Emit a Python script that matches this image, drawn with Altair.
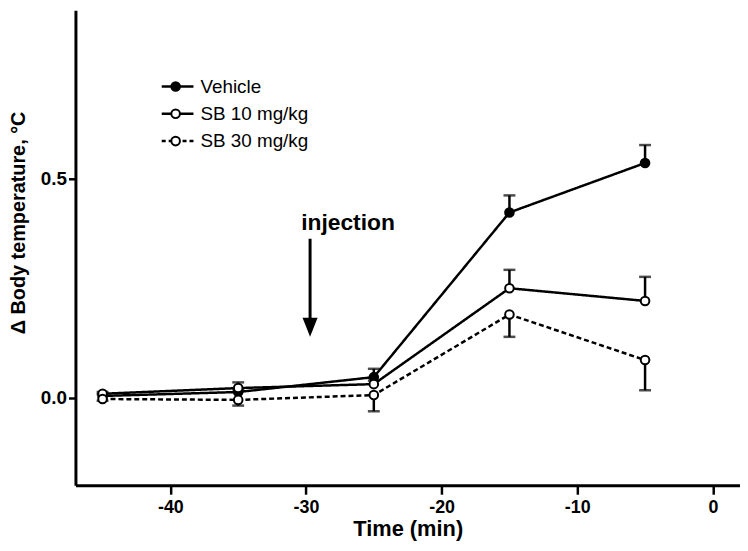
import altair as alt
import pandas as pd

# ---- data ----
time = [-45, -35, -25, -15, -5]
series = ["Vehicle", "SB 10 mg/kg", "SB 30 mg/kg"]
vehicle_mean = [0.004, 0.013, 0.047, 0.423, 0.536]
vehicle_sem = [0.004, 0.006, 0.019, 0.039, 0.041]
sb10_mean = [0.009, 0.022, 0.031, 0.250, 0.221]
sb10_sem = [0.004, 0.013, 0.008, 0.042, 0.055]
sb30_mean = [-0.003, -0.005, 0.006, 0.190, 0.086]
sb30_sem = [0.004, 0.013, 0.037, 0.051, 0.069]
x_ticks = [-40, -30, -20, -10, 0]
y_ticks = [0.0, 0.5]
injection_time = [-29.7]
injection_label = ["injection"]

# ---- table ----
err_dir = {"Vehicle": 1, "SB 10 mg/kg": 1, "SB 30 mg/kg": -1}
rows = []
for name, means, sems in zip(series, [vehicle_mean, sb10_mean, sb30_mean],
                             [vehicle_sem, sb10_sem, sb30_sem]):
    for t, m, s in zip(time, means, sems):
        rows.append({"time": t, "mean": m, "series": name,
                     "end": m + err_dir[name] * s})
df = pd.DataFrame(rows)

W, H = 670, 479
xs = alt.Scale(domain=[-47, 2], nice=False, zero=False)
ys = alt.Scale(domain=[-0.2, 0.885], nice=False, zero=False)

X = alt.X("time:Q", scale=xs, axis=alt.Axis(
    values=x_ticks, title="Time (min)", labelExpr="'' + datum.value"))
Y = alt.Y("mean:Q", scale=ys, axis=alt.Axis(
    values=y_ticks, format=".1f", title="Δ Body temperature, °C"))

dash = alt.StrokeDash("series:N", scale=alt.Scale(domain=series, range=[[1, 0], [1, 0], [5, 3]]), legend=None)
fill = alt.Fill("series:N", scale=alt.Scale(domain=series, range=["black", "white", "white"]), legend=None)

base = alt.Chart(df)
lines = base.mark_line(color="black", strokeWidth=2.5).encode(x=X, y=Y, detail="series:N", strokeDash=dash)
err = base.mark_rule(color="black", strokeWidth=2.5).encode(x="time:Q", y="mean:Q", y2="end:Q")
caps = base.mark_tick(color="black", orient="horizontal", size=12, thickness=2.5).encode(x="time:Q", y="end:Q")
pts = base.mark_point(shape="circle", filled=True, size=75, stroke="black", strokeWidth=2, opacity=1).encode(
    x="time:Q", y="mean:Q", fill=fill)

# injection arrow
inj = pd.DataFrame({"time": injection_time, "label": injection_label})
shaft = alt.Chart(inj).mark_rule(color="black", strokeWidth=3).encode(
    x="time:Q", y=alt.datum(0.363), y2=alt.datum(0.18))
head = alt.Chart(inj).mark_point(shape="M-0.8,-1L0.8,-1L0,1Z", filled=True, color="black", size=361, opacity=1).encode(
    x="time:Q", y=alt.datum(0.161))
inj_text = alt.Chart(inj).mark_text(align="left", baseline="alphabetic", font="Liberation Sans",
                                    fontWeight="bold", fontSize=23, dx=-9).encode(
    x="time:Q", y=alt.datum(0.384), text="label:N")

# manual legend (pixel positions inside the plot area)
leg_layers = []
leg_y = [77, 104.5, 132]
leg_dash = [[1, 0], [1, 0], [4, 3]]
leg_fill = ["black", "white", "white"]
for name, ly, dsh, fl in zip(series, leg_y, leg_dash, leg_fill):
    ldf = pd.DataFrame({"label": [name]})
    c = alt.Chart(ldf)
    leg_layers.append(c.mark_rule(color="black", strokeWidth=2.5, strokeDash=dsh).encode(
        x=alt.value(87), x2=alt.value(119), y=alt.value(ly)))
    leg_layers.append(c.mark_point(shape="circle", filled=True, size=75, stroke="black", strokeWidth=2,
                                   fill=fl, opacity=1).encode(x=alt.value(101), y=alt.value(ly)))
    leg_layers.append(c.mark_text(align="left", baseline="middle", font="Liberation Sans",
                                  fontSize=19).encode(x=alt.value(126), y=alt.value(ly), text="label:N"))

chart = alt.layer(lines, err, caps, pts, shaft, head, inj_text, *leg_layers).properties(
    width=W, height=H,
    padding={"left": 68, "top": 0, "right": 0, "bottom": 56},
    autosize=alt.AutoSizeParams(type="none"),
).configure_view(stroke=None).configure_axis(
    grid=False, domainColor="black", domainWidth=3, tickColor="black", tickWidth=2.5,
    labelColor="black", titleColor="black", labelFontWeight="bold", titleFontWeight="bold",
    labelFont="Liberation Sans", titleFont="Liberation Sans",
).configure_axisX(
    labelFontSize=18, tickSize=9, labelPadding=4,
    titleFontSize=22, titleY=34, titleBaseline="top",
).configure_axisY(
    labelFontSize=19, tickSize=7, labelPadding=2,
    titleFontSize=20, titleX=-57, titleY=214, titleBaseline="middle", titleAngle=-90,
)

chart.save("out.html", embed_options={"renderer": "svg", "actions": False})
